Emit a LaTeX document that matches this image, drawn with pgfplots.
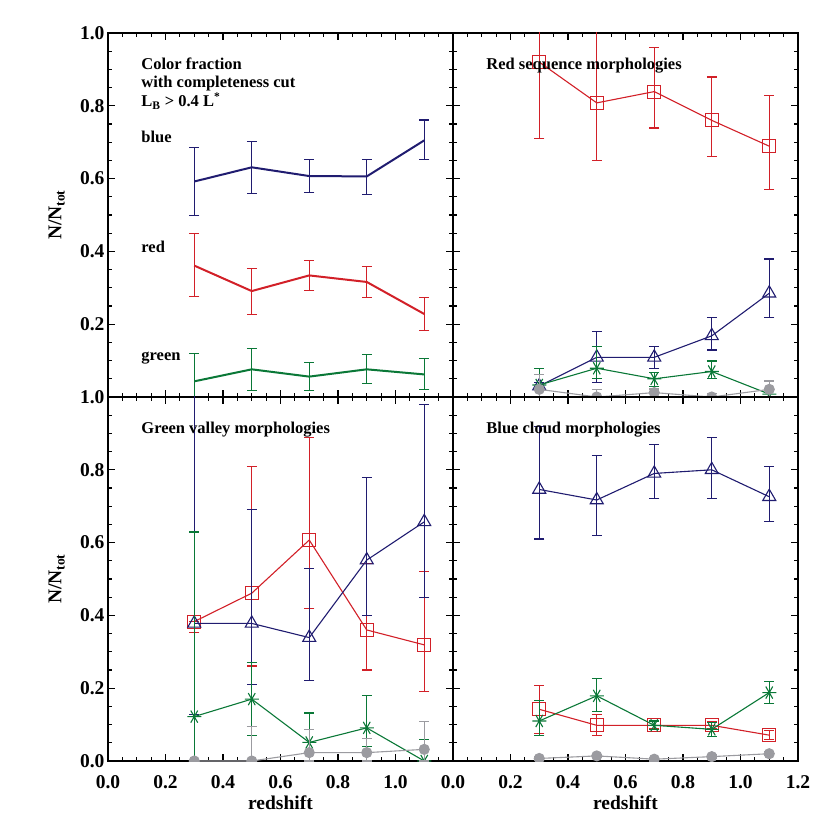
\documentclass[border=0pt]{standalone}
\usepackage{fontspec}
\setmainfont{Liberation Serif}
\usepackage{pgfplots}
\pgfplotsset{compat=1.18}

\definecolor{cnavy}{RGB}{32,28,112}
\definecolor{cred}{RGB}{210,32,40}
\definecolor{cgreen}{RGB}{10,120,55}
\definecolor{cgrey}{RGB}{155,155,160}

\newcommand{\tfont}{\fontsize{19.5}{22}\selectfont\bfseries}
\newcommand{\lfont}{\fontsize{16.5}{18}\selectfont\bfseries}

\pgfplotsset{
  panel/.style={
    scale only axis, width=345pt, height=364pt, anchor=south west,
    xmin=0, xmax=1.2, ymin=0, ymax=1,
    xtick={0,0.2,0.4,0.6,0.8,1.0,1.2},
    ytick={0,0.2,0.4,0.6,0.8,1.0},
    minor tick num=3, tick align=inside,
    major tick length=7pt, minor tick length=4pt,
    axis line style={line width=1.3pt},
    every tick/.style={black, line width=1.1pt},
    ticklabel style={font=\tfont},
    xticklabel style={anchor=base, yshift=-27pt},
    clip marker paths=true,
    xlabel style={font=\tfont, at={(axis description cs:0.5,-0.134)}, anchor=base},
    ylabel style={font=\tfont, at={(axis description cs:-0.135,0.5)}, anchor=base},
  },
  errs/.style={
    error bars/y dir=both, error bars/y explicit,
    error bars/error bar style={#1, line width=1.1pt},
    error bars/error mark options={rotate=90, #1, line width=1.1pt, mark size=5pt},
  },
  frac/.style={errs=#1, color=#1, line width=2pt, mark=none},
  sq/.style={errs=cred, color=cred, line width=1.1pt, mark=square, mark size=6.5pt, mark options={line width=1.1pt}},
  tri/.style={errs=cnavy, color=cnavy, line width=1.1pt, mark=triangle, mark size=7.5pt, mark options={line width=1.1pt}},
  ast/.style={errs=cgreen, color=cgreen, line width=1.1pt, mark=asterisk, mark size=7pt, mark options={rotate=90, line width=1.1pt}},
  dot/.style={errs=cgrey, color=cgrey, line width=1.1pt, mark=*, mark size=5pt},
}

\begin{document}
\begin{tikzpicture}
\path[use as bounding box] (0pt,0pt) rectangle (830pt,830pt);

% color fraction
\begin{axis}[panel, at={(108pt,433pt)},
  xticklabels={,,,,,,},
  yticklabels={,0.2,0.4,0.6,0.8,1.0},
  ylabel={N/N\textsubscript{tot}}]
\addplot[frac=cnavy] coordinates {
 (0.3,0.592) += (0,0.094) -= (0,0.093)
 (0.5,0.631) += (0,0.072) -= (0,0.072)
 (0.7,0.607) += (0,0.045) -= (0,0.046)
 (0.9,0.606) += (0,0.046) -= (0,0.049)
 (1.1,0.705) += (0,0.056) -= (0,0.052)
};
\addplot[frac=cred] coordinates {
 (0.3,0.361) += (0,0.087) -= (0,0.086)
 (0.5,0.291) += (0,0.063) -= (0,0.064)
 (0.7,0.334) += (0,0.041) -= (0,0.041)
 (0.9,0.316) += (0,0.043) -= (0,0.043)
 (1.1,0.228) += (0,0.045) -= (0,0.046)
};
\addplot[frac=cgreen] coordinates {
 (0.3,0.043) += (0,0.076) -= (0,0.076)
 (0.5,0.076) += (0,0.058) -= (0,0.059)
 (0.7,0.056) += (0,0.038) -= (0,0.037)
 (0.9,0.076) += (0,0.041) -= (0,0.039)
 (1.1,0.062) += (0,0.043) -= (0,0.041)
};
\node[anchor=base west, font=\lfont] at (axis cs:0.104,0.900) {Color fraction};
\node[anchor=base west, font=\lfont] at (axis cs:0.104,0.849) {with completeness cut};
\node[anchor=base west, font=\lfont] at (axis cs:0.104,0.798) {L\textsubscript{B} > 0.4 L\textsuperscript{*}};
\node[anchor=base west, font=\lfont] at (axis cs:0.104,0.699) {blue};
\node[anchor=base west, font=\lfont] at (axis cs:0.104,0.396) {red};
\node[anchor=base west, font=\lfont] at (axis cs:0.104,0.100) {green};
\end{axis}

% red sequence
\begin{axis}[panel, at={(453pt,433pt)},
  xticklabels={,,,,,,}, yticklabels={,,,,,}]
\addplot[sq] coordinates {
 (0.3,0.920) += (0,0.21) -= (0,0.211)
 (0.5,0.808) += (0,0.20) -= (0,0.159)
 (0.7,0.839) += (0,0.120) -= (0,0.100)
 (0.9,0.760) += (0,0.119) -= (0,0.100)
 (1.1,0.689) += (0,0.140) -= (0,0.120)
};
\addplot[tri] coordinates {
 (0.3,0.030) += (0,0.010) -= (0,0.010)
 (0.5,0.109) += (0,0.070) -= (0,0.070)
 (0.7,0.109) += (0,0.030) -= (0,0.030)
 (0.9,0.168) += (0,0.051) -= (0,0.039)
 (1.1,0.285) += (0,0.094) -= (0,0.066)
};
\addplot[ast] coordinates {
 (0.3,0.033) += (0,0.046) -= (0,0.033)
 (0.5,0.079) += (0,0.060) -= (0,0.029)
 (0.7,0.050) += (0,0.017) -= (0,0.020)
 (0.9,0.070) += (0,0.029) -= (0,0.020)
 (1.1,0.008) += (0,0.010) -= (0,0.008)
};
\addplot[dot] coordinates {
 (0.3,0.021) += (0,0.041) -= (0,0.020)
 (0.5,0.000) += (0,0.021) -= (0,0.000)
 (0.7,0.012) += (0,0.010) -= (0,0.010)
 (0.9,0.000) += (0,0.010) -= (0,0.000)
 (1.1,0.021) += (0,0.023) -= (0,0.020)
};
\node[anchor=base west, font=\lfont] at (axis cs:0.104,0.900) {Red sequence morphologies};
\end{axis}

% green valley
\begin{axis}[panel, at={(108pt,69pt)},
  xticklabels={0.0,0.2,0.4,0.6,0.8,1.0,},
  yticklabels={0.0,0.2,0.4,0.6,0.8,1.0},
  xlabel={redshift}, ylabel={N/N\textsubscript{tot}}]
\addplot[sq] coordinates {
 (0.3,0.383) += (0,0.000) -= (0,0.030)
 (0.5,0.461) += (0,0.348) -= (0,0.200)
 (0.7,0.607) += (0,0.281) -= (0,0.187)
 (0.9,0.360) += (0,0.183) -= (0,0.110)
 (1.1,0.319) += (0,0.201) -= (0,0.129)
};
\addplot[tri] coordinates {
 (0.3,0.378) += (0,0.700) -= (0,0.250)
 (0.5,0.378) += (0,0.312) -= (0,0.167)
 (0.7,0.339) += (0,0.191) -= (0,0.118)
 (0.9,0.552) += (0,0.227) -= (0,0.152)
 (1.1,0.657) += (0,0.322) -= (0,0.207)
};
\addplot[ast] coordinates {
 (0.3,0.122) += (0,0.507) -= (0,0.122)
 (0.5,0.170) += (0,0.100) -= (0,0.100)
 (0.7,0.051) += (0,0.081) -= (0,0.051)
 (0.9,0.091) += (0,0.089) -= (0,0.052)
 (1.1,0.000) += (0,0.060) -= (0,0.000)
};
\addplot[dot] coordinates {
 (0.3,0.000) += (0,0.000) -= (0,0.000)
 (0.5,0.000) += (0,0.096) -= (0,0.000)
 (0.7,0.023) += (0,0.064) -= (0,0.023)
 (0.9,0.023) += (0,0.040) -= (0,0.023)
 (1.1,0.032) += (0,0.076) -= (0,0.032)
};
\node[anchor=base west, font=\lfont] at (axis cs:0.104,0.900) {Green valley morphologies};
\end{axis}

% blue cloud
\begin{axis}[panel, at={(453pt,69pt)},
  xticklabels={0.0,0.2,0.4,0.6,0.8,1.0,1.2},
  yticklabels={,,,,,},
  xlabel={redshift}]
\addplot[sq] coordinates {
 (0.3,0.142) += (0,0.066) -= (0,0.066)
 (0.5,0.098) += (0,0.030) -= (0,0.029)
 (0.7,0.098) += (0,0.010) -= (0,0.010)
 (0.9,0.098) += (0,0.010) -= (0,0.010)
 (1.1,0.071) += (0,0.012) -= (0,0.012)
};
\addplot[tri] coordinates {
 (0.3,0.746) += (0,0.172) -= (0,0.136)
 (0.5,0.717) += (0,0.122) -= (0,0.098)
 (0.7,0.790) += (0,0.079) -= (0,0.070)
 (0.9,0.800) += (0,0.089) -= (0,0.080)
 (1.1,0.726) += (0,0.083) -= (0,0.067)
};
\addplot[ast] coordinates {
 (0.3,0.110) += (0,0.057) -= (0,0.041)
 (0.5,0.179) += (0,0.048) -= (0,0.042)
 (0.7,0.098) += (0,0.012) -= (0,0.012)
 (0.9,0.087) += (0,0.020) -= (0,0.020)
 (1.1,0.188) += (0,0.030) -= (0,0.030)
};
\addplot[dot] coordinates {
 (0.3,0.007) += (0,0.005) -= (0,0.005)
 (0.5,0.014) += (0,0.005) -= (0,0.005)
 (0.7,0.005) += (0,0.005) -= (0,0.005)
 (0.9,0.012) += (0,0.005) -= (0,0.005)
 (1.1,0.020) += (0,0.005) -= (0,0.005)
};
\node[anchor=base west, font=\lfont] at (axis cs:0.104,0.900) {Blue cloud morphologies};
\end{axis}
\end{tikzpicture}
\end{document}
